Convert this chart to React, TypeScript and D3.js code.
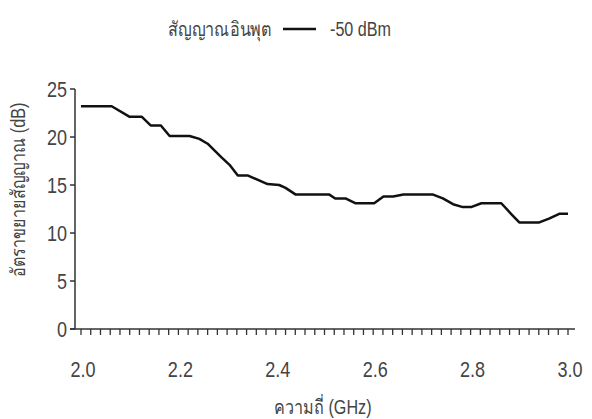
import React from "react";
import * as d3 from "d3";

const freqGHz = [2.0, 2.063, 2.1, 2.125, 2.143, 2.164, 2.182, 2.223, 2.243, 2.26, 2.288, 2.305, 2.322, 2.342, 2.383, 2.407, 2.42, 2.441, 2.51, 2.522, 2.543, 2.563, 2.602, 2.621, 2.641, 2.662, 2.723, 2.743, 2.764, 2.784, 2.801, 2.822, 2.863, 2.883, 2.9, 2.941, 2.961, 2.982, 3.0];
const gainDb = [23.2, 23.2, 22.1, 22.1, 21.2, 21.2, 20.1, 20.1, 19.8, 19.3, 17.9, 17.1, 16.0, 16.0, 15.1, 15.0, 14.7, 14.0, 14.0, 13.6, 13.6, 13.1, 13.1, 13.8, 13.8, 14.0, 14.0, 13.6, 13.0, 12.7, 12.7, 13.1, 13.1, 12.0, 11.1, 11.1, 11.5, 12.0, 12.0];
const xTickLabels = [2.0, 2.2, 2.4, 2.6, 2.8, 3.0];
const yTickLabels = [0, 5, 10, 15, 20, 25];
const legendTitle = "สัญญาณอินพุต";
const seriesName = "-50 dBm";
const xTitle = "ความถี่ (GHz)";
const yTitle = "อัตราขยายสัญญาณ (dB)";

function T(props: { x: number; y: number; size: number; anchor?: string; rotate?: number; children: React.ReactNode }) {
  const { x, y, size, anchor, rotate, children } = props;
  const tr = `translate(${x},${y})${rotate ? ` rotate(${rotate})` : ""} scale(0.95,1.15)`;
  return (
    <text transform={tr} textAnchor={anchor || "start"} fontSize={size} fill="#444">{children}</text>
  );
}

export default function App() {
  const W = 592, H = 419;
  const x = d3.scaleLinear().domain([2, 3]).range([81, 568]);
  const y = d3.scaleLinear().domain([0, 25]).range([329, 89]);
  const minor = d3.range(0, 51).map((i) => 2 + i * 0.02);
  const pts: [number, number][] = freqGHz.map((f, i) => [f, gainDb[i]]);
  const line = d3.line<[number, number]>().x((d) => x(d[0])).y((d) => y(d[1]));
  const axisColor = "#333";
  const font = "'Liberation Sans', Arial, sans-serif";
  return (
    <svg width={W} height={H} style={{ position: "absolute", left: 0, top: 0, background: "#fff" }} fontFamily={font}>
      {/* legend */}
      <T x={272} y={36} size={17} anchor="end">{legendTitle}</T>
      <line x1={283} x2={316} y1={29} y2={29} stroke="#111" strokeWidth={2.5} />
      <T x={330} y={36} size={17}>{seriesName}</T>
      {/* y axis */}
      <line x1={75} x2={75} y1={y(25)} y2={y(0)} stroke={axisColor} strokeWidth={1.5} />
      {yTickLabels.map((v) => (
        <g key={v}>
          <line x1={70} x2={75} y1={y(v)} y2={y(v)} stroke={axisColor} strokeWidth={1.5} />
          <T x={67} y={y(v) + 8} size={19} anchor="end">{v}</T>
        </g>
      ))}
      {/* x axis */}
      <line x1={70} x2={575} y1={y(0)} y2={y(0)} stroke={axisColor} strokeWidth={1.5} />
      {minor.map((v, i) => (
        <line key={i} x1={x(v)} x2={x(v)} y1={y(0)} y2={y(0) + 6} stroke={axisColor} strokeWidth={1.3} />
      ))}
      {xTickLabels.map((v) => (
        <T key={v} x={x(v) + 2} y={377} size={19} anchor="middle">{v.toFixed(1)}</T>
      ))}
      <T x={323} y={414} size={17} anchor="middle">{xTitle}</T>
      <T x={25} y={190} size={17} anchor="middle" rotate={-90}>{yTitle}</T>
      {/* series */}
      <path d={line(pts) || ""} fill="none" stroke="#111" strokeWidth={2.5} strokeLinejoin="round" />
    </svg>
  );
}
